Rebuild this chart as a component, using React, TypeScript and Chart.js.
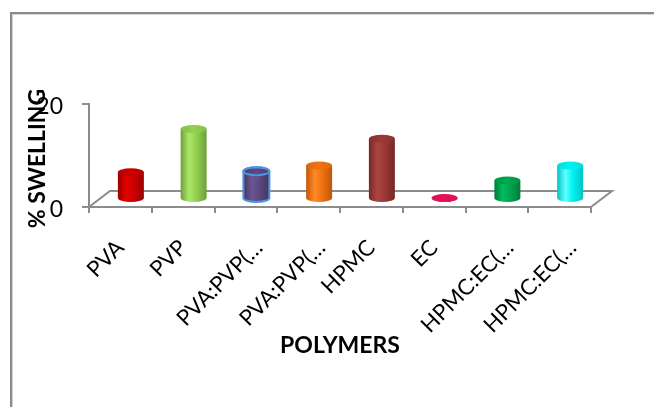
import { useEffect, useRef } from 'react';
import { Chart, registerables } from 'chart.js';

Chart.register(...registerables);

// Polymers and their swelling (%)
const categories = ['PVA', 'PVP', 'PVA:PVP(…', 'PVA:PVP(…', 'HPMC', 'EC', 'HPMC:EC(…', 'HPMC:EC(…'];
const swelling = [5.2, 13.6, 5.4, 6.5, 11.7, 0.2, 3.6, 6.5];
const yMin = 0;
const yMax = 20;
const yStep = 20;
const yTitle = '% SWELLING';
const xTitle = 'POLYMERS';

// Cylinder shading per bar: edge, highlight, body, top cap
const palette = [
  { dark: '#9a0000', light: '#e60000', base: '#cc0000', top: '#b30000' },
  { dark: '#6f9e3d', light: '#a8e868', base: '#92d050', top: '#83bf47' },
  { dark: '#46345c', light: '#6c5590', base: '#5d4a80', top: '#4f3d6b', outline: '#4f93e0' },
  { dark: '#c05608', light: '#ff8a24', base: '#f07414', top: '#dd660e' },
  { dark: '#742826', light: '#ad4542', base: '#9c3936', top: '#8a302e' },
  { dark: '#b8004a', light: '#f0206c', base: '#e0105a', top: '#e0105a' },
  { dark: '#007a3a', light: '#00bd5e', base: '#00a650', top: '#009445' },
  { dark: '#00c4c4', light: '#60ffff', base: '#00f2f2', top: '#00dede' },
];

const FONT = 'Lato';
const AXIS_GREY = '#8c8c8c';
const DEPTH_X = 21;
const DEPTH_Y = 16;
const CAP_RY = 4;

function drawCylinder(ctx: CanvasRenderingContext2D, cx: number, top: number, bottom: number, w: number, c: any) {
  const rx = w / 2;
  const left = cx - rx;
  const right = cx + rx;
  const g = ctx.createLinearGradient(left, 0, right, 0);
  g.addColorStop(0, c.dark);
  g.addColorStop(0.32, c.light);
  g.addColorStop(0.6, c.base);
  g.addColorStop(1, c.dark);

  ctx.save();
  ctx.beginPath();
  ctx.moveTo(left, top);
  ctx.lineTo(left, bottom);
  ctx.ellipse(cx, bottom, rx, CAP_RY, 0, Math.PI, 0, true);
  ctx.lineTo(right, top);
  ctx.closePath();
  ctx.fillStyle = g;
  ctx.fill();

  const tg = ctx.createLinearGradient(left, 0, right, 0);
  tg.addColorStop(0, c.top);
  tg.addColorStop(0.5, c.base);
  tg.addColorStop(1, c.top);
  ctx.beginPath();
  ctx.ellipse(cx, top, rx, CAP_RY, 0, 0, Math.PI * 2);
  ctx.fillStyle = tg;
  ctx.fill();

  if (c.outline) {
    ctx.strokeStyle = c.outline;
    ctx.lineWidth = 2;
    ctx.beginPath();
    ctx.moveTo(left, top);
    ctx.lineTo(left, bottom);
    ctx.ellipse(cx, bottom, rx, CAP_RY, 0, Math.PI, 0, true);
    ctx.lineTo(right, top);
    ctx.ellipse(cx, top, rx, CAP_RY, 0, 0, Math.PI, true);
    ctx.stroke();
    ctx.beginPath();
    ctx.ellipse(cx, top, rx, CAP_RY, 0, 0, Math.PI * 2);
    ctx.stroke();
  }
  ctx.restore();
}

const framePlugin = {
  id: 'frame',
  beforeDraw(chart: any) {
    const { ctx, width, height } = chart;
    ctx.save();
    ctx.fillStyle = '#ffffff';
    ctx.fillRect(0, 0, width, height);
    ctx.strokeStyle = '#8a8a8a';
    ctx.lineWidth = 2;
    ctx.beginPath();
    ctx.moveTo(11, height);
    ctx.lineTo(11, 13);
    ctx.lineTo(width, 13);
    ctx.stroke();
    ctx.strokeStyle = '#d4d4d4';
    ctx.lineWidth = 1;
    ctx.beginPath();
    ctx.moveTo(12.5, height);
    ctx.lineTo(12.5, 14.5);
    ctx.lineTo(width, 14.5);
    ctx.stroke();
    ctx.restore();
  },
};

const floorPlugin = {
  id: 'floor',
  beforeDatasetsDraw(chart: any) {
    const { ctx, chartArea } = chart;
    const { left, right, bottom } = chartArea;
    ctx.save();
    ctx.strokeStyle = AXIS_GREY;
    ctx.lineWidth = 2;
    ctx.beginPath();
    ctx.moveTo(left, bottom);
    ctx.lineTo(left + DEPTH_X, bottom - DEPTH_Y);
    ctx.lineTo(right + DEPTH_X, bottom - DEPTH_Y);
    ctx.lineTo(right, bottom);
    ctx.stroke();
    ctx.restore();
  },
};

const cylinderPlugin = {
  id: 'cylinders',
  afterDatasetsDraw(chart: any) {
    const { ctx } = chart;
    const meta = chart.getDatasetMeta(0);
    meta.data.forEach((el: any, i: number) => {
      const cx = el.x + DEPTH_X / 2;
      const top = el.y - DEPTH_Y / 2;
      const bottom = el.base - DEPTH_Y / 2;
      drawCylinder(ctx, cx, top, bottom, el.width, palette[i % palette.length]);
    });
  },
};

const textPlugin = {
  id: 'axisText',
  afterDraw(chart: any) {
    const { ctx } = chart;
    const xs = chart.scales.x;
    ctx.save();
    ctx.fillStyle = '#000000';
    ctx.font = `22px ${FONT}`;
    ctx.textAlign = 'right';
    ctx.textBaseline = 'alphabetic';
    categories.forEach((label, i) => {
      const x = xs.getPixelForTick(i);
      const shift = label.endsWith('…') ? 18 : 5;
      ctx.save();
      ctx.translate(x + shift, 249);
      ctx.rotate(-Math.PI / 4);
      ctx.fillText(label, 0, 0);
      ctx.restore();
    });

    ctx.font = `bold 23px ${FONT}`;
    ctx.textAlign = 'center';
    ctx.fillText(xTitle, 340, 353);

    ctx.save();
    ctx.translate(45, 158.5);
    ctx.rotate(-Math.PI / 2);
    ctx.fillText(yTitle, 0, 0);
    ctx.restore();
    ctx.restore();
  },
};

export default function App() {
  const ref = useRef<HTMLCanvasElement>(null);

  useEffect(() => {
    if (!ref.current) return;
    const chart = new Chart(ref.current, {
      type: 'bar',
      data: {
        labels: categories,
        datasets: [
          {
            data: swelling,
            backgroundColor: 'rgba(0,0,0,0)',
            borderWidth: 0,
            barPercentage: 0.414,
            categoryPercentage: 1,
          },
        ],
      },
      options: {
        animation: false,
        responsive: false,
        events: [],
        layout: { padding: { left: 0, top: 104, right: 63, bottom: 0 } },
        plugins: { legend: { display: false }, tooltip: { enabled: false } },
        scales: {
          x: {
            afterFit: (s: any) => {
              s.height = 200;
            },
            grid: {
              display: true,
              drawOnChartArea: false,
              drawTicks: true,
              tickLength: 6,
              offset: true,
              color: AXIS_GREY,
              lineWidth: 2,
            },
            border: { display: true, color: AXIS_GREY, width: 2 },
            ticks: { display: false },
          },
          y: {
            min: yMin,
            max: yMax,
            afterFit: (s: any) => {
              s.width = 89;
            },
            grid: {
              display: true,
              drawOnChartArea: false,
              drawTicks: true,
              tickLength: 7,
              color: AXIS_GREY,
              lineWidth: 2,
            },
            border: { display: true, color: AXIS_GREY, width: 2 },
            ticks: {
              stepSize: yStep,
              padding: 19,
              labelOffset: 3,
              color: '#000000',
              font: { family: FONT, size: 23 },
            },
          },
        },
      },
      plugins: [framePlugin, floorPlugin, cylinderPlugin, textPlugin],
    });
    return () => chart.destroy();
  }, []);

  return (
    <div style={{ position: 'absolute', left: 0, top: 0, width: 654, height: 407 }}>
      <canvas ref={ref} width={654} height={407} style={{ display: 'block' }} />
    </div>
  );
}
